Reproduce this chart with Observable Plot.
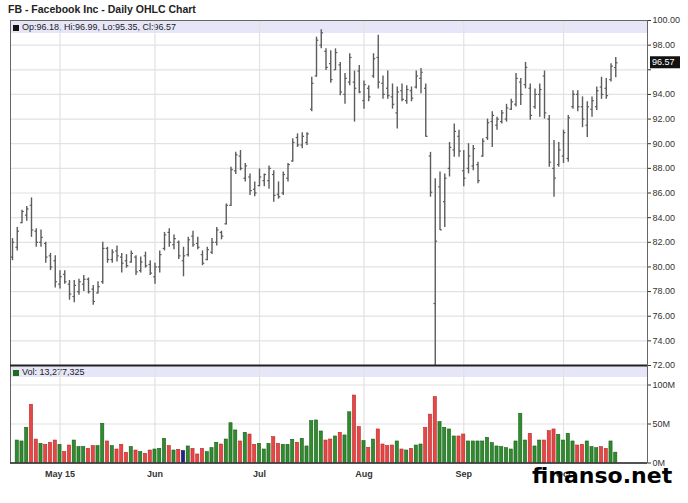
<!DOCTYPE html>
<html><head><meta charset="utf-8">
<script src="https://cdn.jsdelivr.net/npm/d3@7"></script>
<script src="https://cdn.jsdelivr.net/npm/@observablehq/plot@0.6"></script>
<style>
body{margin:0;background:#fff;font-family:"Liberation Sans",Arial,sans-serif;}
#wrap{position:relative;width:688px;height:503px;overflow:hidden;background:#fff;}
#title{position:absolute;left:8px;top:3px;font-size:10.5px;line-height:12px;font-weight:bold;color:#222;white-space:nowrap;}
.info{position:absolute;left:11px;width:636px;background:#e6e6f8;font-size:9px;color:#222;white-space:nowrap;}
.info .sq{display:inline-block;width:6px;height:6px;margin:0 3px 0 2px;vertical-align:-0.5px;}
#pinfo{top:20px;height:13px;line-height:14px;}
#vinfo{top:366px;height:11px;line-height:12px;}
#price,#vol{position:absolute;left:0;}
#price{top:0}
#vol{top:360px}
#wm{position:absolute;left:532px;top:465px;font-family:"DejaVu Sans",sans-serif;font-size:22px;line-height:22px;font-weight:bold;color:#000;white-space:nowrap;}
svg{overflow:visible}
#vol g[aria-label^="x-axis"] text{font-weight:bold;}
</style></head><body>
<div id="wrap">
<div id="title">FB - Facebook Inc - Daily OHLC Chart</div>
<div id="pinfo" class="info"></div>
<div id="vinfo" class="info"></div>
<div id="vol"></div>
<div id="price"></div>
<div id="wm">finanso.net</div>
</div>
<script>
// ---- data ----
const startDate = "2015-04-17";
const endDate = "2015-10-16";
const holidays = ["2015-05-25", "2015-07-03", "2015-09-07"];
const monthLabels = ["May 15", "Jun", "Jul", "Aug", "Sep", "Oct"];

const open = [80.8,81.6,83.6,84.2,85.0,82.9,82.0,81.9,80.9,80.5,
78.6,79.4,78.6,77.6,78.0,78.6,79.0,78.2,77.9,78.8,
81.5,80.6,81.3,80.8,80.5,80.4,80.8,79.7,80.9,80.2,
79.2,80.0,81.5,82.8,81.8,82.0,80.5,81.0,82.5,81.9,
81.0,80.6,81.2,82.0,82.8,83.5,85.0,87.8,89.0,87.2,
87.3,86.3,86.6,87.0,87.0,87.5,85.9,86.0,87.2,88.6,
90.5,89.9,90.1,92.8,95.5,98.0,97.5,96.5,96.0,96.4,
94.0,95.0,95.0,95.9,93.5,94.5,95.5,97.0,94.9,94.5,
93.8,92.5,94.3,93.5,94.3,94.6,95.3,94.5,89.0,77.03,
86.5,85.3,88.0,89.5,90.6,87.8,88.0,88.2,88.3,89.0,
90.5,91.8,91.5,91.8,92.0,92.8,93.2,95.0,94.8,94.5,
93.0,94.0,95.5,92.0,88.0,88.3,89.0,88.8,93.0,94.0,
93.0,91.5,92.8,93.0,94.6,94.5,95.2,96.18];
const high = [82.3,83.2,84.6,84.9,85.6,83.1,83.0,82.0,81.1,80.9,
79.7,79.7,78.9,78.9,79.0,79.3,79.1,78.5,78.8,82.0,
81.6,81.4,81.7,81.1,81.0,81.3,80.9,80.8,81.2,80.5,
80.3,81.3,82.8,83.1,82.6,82.1,81.6,82.4,82.9,82.4,
81.3,81.6,82.3,83.2,82.9,85.1,88.1,89.3,89.45,88.4,
87.55,86.9,87.95,87.55,88.2,87.8,86.9,87.7,88.4,90.4,
90.8,90.9,90.9,95.4,98.65,99.24,97.7,97.55,97.7,96.6,
95.7,97.3,95.9,96.35,95.1,94.7,97.3,98.8,95.5,95.9,
94.85,94.6,94.85,94.7,94.6,95.9,96.1,94.85,89.3,87.15,
87.7,87.55,90.1,91.6,91.1,89.45,90.0,89.85,88.5,90.4,
92.0,92.6,92.15,92.7,93.2,93.6,95.7,95.3,96.6,94.85,
94.45,94.85,95.9,92.3,90.26,90.1,91.1,92.3,94.3,94.3,
93.8,93.4,93.8,94.6,95.4,95.3,96.5,96.99];
const low = [80.5,81.3,83.5,83.7,82.4,81.6,81.6,80.3,79.7,78.3,
78.2,78.6,77.3,77.1,77.7,78.0,77.8,76.9,77.8,78.6,
80.3,80.3,80.4,79.5,79.9,80.3,79.3,79.5,79.9,79.3,
78.6,79.5,81.3,81.6,81.4,80.6,79.2,80.8,81.6,81.4,
80.1,80.5,81.0,81.7,82.2,83.4,84.9,87.5,87.8,86.9,
85.8,85.7,86.5,86.5,86.3,85.25,85.5,85.8,86.9,88.5,
89.7,89.6,89.85,92.6,95.4,97.7,95.95,94.9,95.95,93.9,
93.2,94.7,91.75,94.05,92.8,93.4,95.3,94.45,93.6,93.6,
92.8,91.2,93.4,93.2,93.4,94.45,94.05,90.53,85.66,72.0,
82.95,83.2,87.3,88.9,88.9,86.5,87.55,87.8,86.75,88.9,
90.26,89.7,91.1,91.6,91.75,92.7,92.97,93.1,94.45,91.9,
92.8,92.15,92.0,88.1,85.66,88.1,88.4,88.5,92.8,92.6,
91.3,90.5,92.15,92.7,93.6,93.6,95.0,95.35];
const close = [82.0,82.9,84.5,84.7,83.0,82.0,82.4,80.8,80.0,78.8,
79.2,78.8,77.8,78.5,78.8,79.0,78.0,77.2,78.4,81.5,
80.6,81.2,80.9,80.3,80.1,81.1,79.6,80.4,80.1,79.5,
80.0,81.0,82.6,82.0,82.3,80.9,80.9,82.2,81.8,81.6,
80.3,81.4,82.0,83.0,82.5,85.0,87.9,89.1,88.0,88.2,
86.2,86.0,87.3,87.5,88.0,85.8,85.7,87.5,88.3,90.1,
89.9,90.6,90.8,94.9,98.4,99.0,96.2,95.2,97.4,94.2,
95.3,97.0,94.5,94.2,94.8,93.8,96.9,95.0,94.0,93.9,
93.2,94.2,93.6,94.4,93.7,95.5,95.8,90.6,86.06,82.09,
83.0,87.2,89.7,91.0,89.4,87.2,89.0,89.6,87.0,90.2,
91.7,92.3,92.0,92.5,92.9,93.4,95.3,94.0,96.2,92.3,
94.0,94.4,92.5,88.5,87.2,89.5,90.9,92.1,94.0,93.0,
92.0,93.0,93.5,94.3,94.0,93.9,96.3,96.57];
// volume, millions of shares
const volume = [null,28.8,27.6,45,74.6,30,24.6,23.3,25.9,28.8,
23.3,13.9,22.4,28.8,20.3,20.3,18.2,21.6,21.6,50.2,
27.6,21.6,17.3,23.3,13.0,20.3,16.0,13.9,11.8,16.0,
17.3,18.2,31.0,21.6,16.0,16.9,15.2,21.2,18.2,10.9,
18.2,13.9,19.0,25.9,23.7,30.1,51.0,41.7,27.6,38.7,
36.5,23.3,24.6,17.3,24.6,33.1,24.6,23.3,23.3,29.7,
25.9,31.0,21.2,53.6,54.5,40.4,28.8,30.1,34.0,38.7,
35.3,65.0,86.5,46.0,28.0,19.4,30.0,43.0,23.7,21.6,
22.4,27.6,17.3,16.0,18.2,22.4,23.7,45.0,62.0,84.4,
52.4,45.0,43.0,34.0,34.0,36.5,27.6,27.6,27.6,27.6,
32.3,25.4,21.2,20.3,19.0,17.3,27.6,63.0,28.8,37.4,
21.2,28.8,28.8,40.8,43.0,36.0,28.8,37.4,27.6,22.4,
23.3,27.6,20.3,19.0,20.3,18.2,27.6,13.277325];
const volDir = ["up","up","up","up","down","down","up","down","down","down",
"up","down","down","up","up","up","down","down","up","up",
"down","up","down","down","down","up","down","up","down","down",
"up","up","up","down","up","down","unch","up","down","down",
"down","up","up","up","down","up","up","up","down","up",
"down","down","up","up","up","down","down","up","up","up",
"down","up","up","up","up","up","down","down","up","down",
"up","up","down","down","up","down","up","down","down","down",
"down","up","down","up","down","up","up","down","down","down",
"up","up","up","up","down","down","up","up","up","up",
"up","up","up","up","up","up","up","up","up","down",
"up","up","down","down","down","up","up","up","up","down",
"down","up","up","up","down","down","up","up"];
const priceTicks = [72,74,76,78,80,82,84,86,88,90,92,94,96,98,100];
const volTicks = [0,50,100];

// ---- build ----
function tradingDays(start, end, hol) {
  const out = [];
  const e = new Date(end + "T00:00:00Z");
  for (let d = new Date(start + "T00:00:00Z"); d <= e; d.setUTCDate(d.getUTCDate() + 1)) {
    const wd = d.getUTCDay();
    const s = d.toISOString().slice(0, 10);
    if (wd === 0 || wd === 6 || hol.includes(s)) continue;
    out.push(s);
  }
  return out;
}
const dates = tradingDays(startDate, endDate, holidays);
const n = close.length;
const rows = d3.range(n).map(i => ({i, date: dates[i], o: open[i], h: high[i], l: low[i], c: close[i], v: volume[i], dir: volDir[i]}));
const monthStarts = d3.range(1, n).filter(i => dates[i].slice(5, 7) !== dates[i - 1].slice(5, 7));
const labelOf = new Map(monthStarts.map((m, k) => [m, monthLabels[k]]));
// empty space for ~6.7 sessions to the right of the last bar, as in the original
const xDomain = [-0.42, n - 1 + 6.68];
const last = rows[n - 1];
const fmt2 = d3.format(".2f");

document.getElementById("pinfo").innerHTML =
  `<span class="sq" style="background:#111"></span>Op:${fmt2(last.o)}, Hi:${fmt2(last.h)}, Lo:${fmt2(last.l)}, Cl:${fmt2(last.c)}`;
document.getElementById("vinfo").innerHTML =
  `<span class="sq" style="background:#1f6e1f"></span>Vol: ${d3.format(",")(Math.round(last.v * 1e6))}`;

const grid = "#e2e2e2";
const barColor = "#5c5c5c";
const font = "Liberation Sans, Arial, sans-serif";

const pricePlot = Plot.plot({
  width: 688, height: 370,
  marginLeft: 10, marginRight: 41, marginTop: 20, marginBottom: 5,
  style: {background: "transparent", fontFamily: font, fontSize: "9px", color: "#333"},
  x: {domain: xDomain, axis: null},
  y: {domain: [72, 100], axis: "right", ticks: priceTicks, tickSize: 3, tickPadding: 2,
      tickFormat: d => Math.abs(d - last.c) < 1 ? "" : fmt2(d), label: null},
  marks: [
    Plot.ruleY(priceTicks, {stroke: grid, strokeWidth: 1.2}),
    Plot.ruleX(monthStarts, {stroke: grid, strokeWidth: 1.2}),
    Plot.ruleX(rows, {x: "i", y1: "l", y2: "h", stroke: barColor, strokeWidth: 1.4}),
    Plot.link(rows, {x1: d => d.i - 0.38, x2: "i", y1: "o", y2: "o", stroke: barColor, strokeWidth: 1.2}),
    Plot.link(rows, {x1: "i", x2: d => d.i + 0.38, y1: "c", y2: "c", stroke: barColor, strokeWidth: 1.2}),
    Plot.frame({stroke: "#666", strokeWidth: 1}),
    Plot.ruleY([72], {stroke: "#222", strokeWidth: 2})
  ]
});
document.getElementById("price").appendChild(pricePlot);

// last price box on the right axis
{
  const ys = pricePlot.scale("y"), xs = pricePlot.scale("x");
  const yy = ys.apply(last.c), xx = xs.apply(xDomain[1]);
  const g = d3.select(pricePlot).append("g");
  g.append("rect").attr("x", xx + 3).attr("y", yy - 6).attr("width", 30).attr("height", 12).attr("fill", "#111");
  g.append("text").attr("x", xx + 5).attr("y", yy).attr("dy", "0.35em")
    .attr("text-anchor", "start")
    .attr("fill", "#fff").style("font-size", "9px").attr("font-family", font).text(fmt2(last.c));
}

const volFill = {up: "#2e8b2e", down: "#e84545", unch: "#22228a"};
const volStroke = {up: "#1a5c1a", down: "#b52828", unch: "#111155"};

const volPlot = Plot.plot({
  width: 688, height: 125,
  marginLeft: 10, marginRight: 41, marginTop: 5, marginBottom: 22.5,
  style: {background: "transparent", fontFamily: font, fontSize: "9px", color: "#333"},
  x: {domain: xDomain, ticks: monthStarts, tickFormat: i => labelOf.get(i), tickSize: 0, tickPadding: 8, label: null},
  y: {domain: [0, 125], axis: "right", ticks: volTicks, tickFormat: d => d + "M", tickSize: 3, tickPadding: 2, label: null},
  marks: [
    Plot.ruleY([50, 100], {stroke: grid, strokeWidth: 1.2}),
    Plot.ruleX(monthStarts, {stroke: grid, strokeWidth: 1.2}),
    Plot.rectY(rows.filter(d => d.v != null), {
      x1: d => d.i - 0.33, x2: d => d.i + 0.33, y: "v",
      fill: d => volFill[d.dir], stroke: d => volStroke[d.dir], strokeWidth: 0.6
    }),
    Plot.frame({stroke: "#666", strokeWidth: 1}),
    Plot.ruleY([0], {stroke: "#333", strokeWidth: 1.5})
  ]
});
document.getElementById("vol").appendChild(volPlot);
</script>
</body></html>
